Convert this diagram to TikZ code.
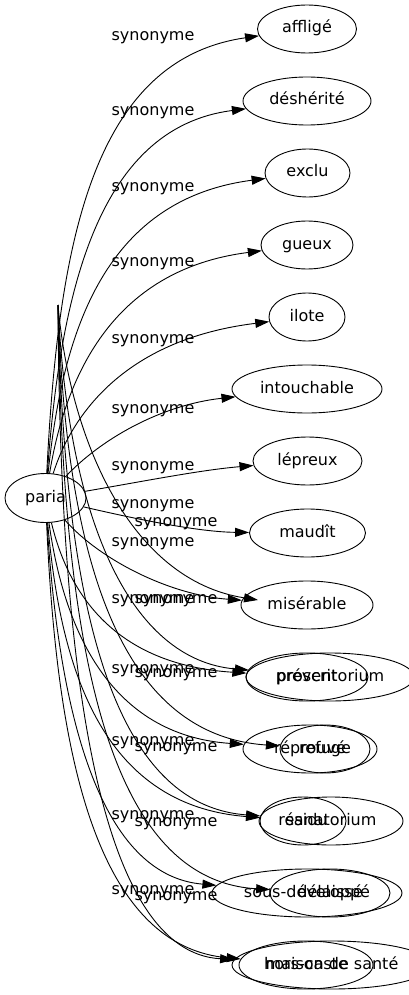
\documentclass[tikz,border=0pt]{standalone}
\usepackage{fontspec}
\setmainfont{DejaVu Sans}
\usetikzlibrary{shapes.geometric,arrows.meta}
\begin{document}
\begin{tikzpicture}[x=1pt,y=1pt,
  word/.style={draw, ellipse, line width=0.9pt, minimum height=48pt, inner sep=0pt, text height=11.7pt, text depth=3.7pt, font=\fontsize{16}{19}\selectfont},
  rel/.style={inner sep=0pt, text height=11.7pt, text depth=3.7pt, font=\fontsize{16}{19}\selectfont},
  edge/.style={line width=0.9pt, -{Triangle[length=14pt,width=9pt]}}]
\path[use as bounding box, clip] (0,0) rectangle (409,-995);
% main column
\node[word, minimum width=81pt, minimum height=49pt] (paria) at (45.5,-498) {paria};
\node[word, minimum width=99pt]  (afflige)     at (307,-29)  {affligé};
\node[word, minimum width=128pt] (desherite)   at (307,-101) {déshérité};
\node[word, minimum width=85pt]  (exclu)       at (307.5,-173) {exclu};
\node[word, minimum width=92pt]  (gueux)       at (307,-245) {gueux};
\node[word, minimum width=76pt]  (ilote)       at (307,-317) {ilote};
\node[word, minimum width=150pt] (intouchable) at (307,-389) {intouchable};
\node[word, minimum width=109pt] (lepreux)     at (307.5,-461) {lépreux};
\node[word, minimum width=116pt] (maudit)      at (307.5,-533) {maudît};
\node[word, minimum width=132pt] (miserable)   at (307,-605) {misérable};
\node[word, minimum width=122pt] (proscrit)    at (307,-677) {proscrit};
\node[word, minimum width=134pt] (reprouve)    at (310,-749) {réprouvé};
\node[word, minimum width=86pt]  (residu)      at (303,-821) {résidu};
\node[word, minimum width=190pt] (sousdev)     at (307,-893) {sous-développé};
\node[word, minimum width=134pt] (horscaste)   at (306,-965) {hors-caste};
% second, overlapping column
\node[word, minimum width=168pt] (preventorium) at (330,-677) {préventorium};
\node[word, minimum width=90pt]  (refuge)       at (325,-749) {refuge};
\node[word, minimum width=144pt] (sanatorium)   at (331,-821) {sanatorium};
\node[word, minimum width=120pt] (delaisse)     at (330,-893) {délaissé};
\node[word, minimum width=200pt] (maison)       at (332,-965) {maison de santé};
\coordinate (apex) at (58,-305);
\coordinate (misB) at (258,-600);
% main edges
\draw[edge] (paria) .. controls (58,-250) and (90,-60) .. (afflige);
\draw[edge] (paria) .. controls (60,-300) and (95,-128) .. (desherite);
\draw[edge] (paria) .. controls (62,-340) and (100,-200) .. (exclu);
\draw[edge] (paria) .. controls (65,-380) and (110,-270) .. (gueux);
\draw[edge] (paria) .. controls (70,-420) and (120,-340) .. (ilote);
\draw[edge] (paria) .. controls (100,-440) and (160,-405) .. (intouchable);
\draw[edge] (paria) .. controls (140,-482) and (200,-470) .. (lepreux);
\draw[edge] (paria) .. controls (140,-520) and (200,-532) .. (maudit);
\draw[edge] (paria) .. controls (100,-560) and (170,-595) .. (miserable);
\draw[edge] (paria) .. controls (70,-600) and (120,-665) .. (proscrit);
\draw[edge] (paria) .. controls (64,-630) and (110,-735) .. (reprouve);
\draw[edge] (paria) .. controls (60,-665) and (100,-805) .. (residu);
\draw[edge] (paria) .. controls (58,-700) and (95,-875) .. (sousdev);
\draw[edge] (paria) .. controls (56,-735) and (90,-945) .. (horscaste);
% second edges
\draw[edge] (apex) .. controls (70,-440) and (130,-580) .. (misB);
\draw[edge] (apex) .. controls (68,-520) and (130,-660) .. (preventorium);
\draw[edge] (apex) .. controls (66,-560) and (120,-735) .. (refuge);
\draw[edge] (apex) .. controls (64,-600) and (110,-805) .. (sanatorium);
\draw[edge] (apex) .. controls (62,-640) and (105,-880) .. (delaisse);
\draw[edge] (apex) .. controls (60,-680) and (100,-952) .. (maison);
% labels
\node[rel] (l1)  at (153,-37)  {synonyme};
\node[rel] (l2)  at (153,-112) {synonyme};
\node[rel] (l3)  at (153,-187) {synonyme};
\node[rel] (l4)  at (153,-262) {synonyme};
\node[rel] (l5)  at (153,-339) {synonyme};
\node[rel] (l6)  at (153,-409) {synonyme};
\node[rel] (l7)  at (153,-466) {synonyme};
\node[rel] (l8)  at (153,-504) {synonyme};
\node[rel] (l9)  at (153,-542) {synonyme};
\node[rel] (l10) at (153,-599) {synonyme};
\node[rel] (l11) at (153,-669) {synonyme};
\node[rel] (l12) at (153,-741) {synonyme};
\node[rel] (l13) at (153,-815) {synonyme};
\node[rel] (l14) at (153,-890) {synonyme};
\node[rel] (m1) at (176,-522) {synonyme};
\node[rel] (m2) at (176,-599) {synonyme};
\node[rel] (m3) at (176,-673) {synonyme};
\node[rel] (m4) at (176,-747) {synonyme};
\node[rel] (m5) at (176,-822) {synonyme};
\node[rel] (m6) at (176,-896) {synonyme};
\end{tikzpicture}
\end{document}
